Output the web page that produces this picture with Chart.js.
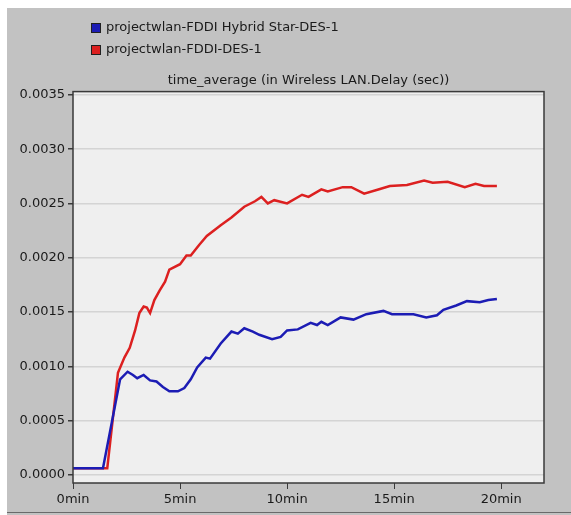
<!DOCTYPE html>
<html>
<head>
<meta charset="utf-8">
<script src="https://cdn.jsdelivr.net/npm/chart.js@4"></script>
<style>
  html,body{margin:0;padding:0;background:#fff;}
  #wrap{width:571px;height:515px;}
</style>
</head>
<body>
<div id="wrap"><canvas id="delayChart" width="571" height="515"></canvas></div>
<script>
// series names
const seriesNames = ['projectwlan-FDDI Hybrid Star-DES-1', 'projectwlan-FDDI-DES-1'];

// hybrid star run (blue), time in minutes / delay in sec
const hybridTimes = [0, 1.4, 2.2, 2.55, 2.8, 3.0, 3.3, 3.6, 3.9, 4.2, 4.5, 4.9, 5.2, 5.5, 5.8, 6.2, 6.4, 6.9, 7.4, 7.7, 8.0, 8.4, 8.7, 9.3, 9.7, 10.0, 10.5, 11.1, 11.4, 11.6, 11.9, 12.5, 13.1, 13.7, 14.5, 14.9, 15.9, 16.5, 17.0, 17.3, 17.9, 18.4, 19.0, 19.4, 19.8];
const hybridDelay = [0.00006, 0.00006, 0.00088, 0.00095, 0.00092, 0.00089, 0.00092, 0.00087, 0.00086, 0.00081, 0.00077, 0.00077, 0.00080, 0.00088, 0.00099, 0.00108, 0.00107, 0.00121, 0.00132, 0.00130, 0.00135, 0.00132, 0.00129, 0.00125, 0.00127, 0.00133, 0.00134, 0.00140, 0.00138, 0.00141, 0.00138, 0.00145, 0.00143, 0.00148, 0.00151, 0.00148, 0.00148, 0.00145, 0.00147, 0.00152, 0.00156, 0.00160, 0.00159, 0.00161, 0.00162];

// plain fddi run (red)
const fddiTimes = [0, 1.6, 2.1, 2.4, 2.65, 2.9, 3.1, 3.3, 3.45, 3.6, 3.8, 4.05, 4.3, 4.5, 5.0, 5.3, 5.5, 5.9, 6.25, 6.9, 7.4, 8.0, 8.5, 8.8, 9.1, 9.4, 10.0, 10.7, 11.0, 11.6, 11.9, 12.6, 13.0, 13.6, 14.3, 14.8, 15.6, 16.4, 16.8, 17.5, 18.3, 18.8, 19.2, 19.8];
const fddiDelay = [0.00006, 0.00006, 0.00094, 0.00108, 0.00117, 0.00133, 0.00149, 0.00155, 0.00154, 0.00149, 0.00161, 0.00170, 0.00178, 0.00189, 0.00194, 0.00202, 0.00202, 0.00212, 0.00220, 0.00230, 0.00237, 0.00247, 0.00252, 0.00256, 0.00250, 0.00253, 0.00250, 0.00258, 0.00256, 0.00263, 0.00261, 0.00265, 0.00265, 0.00259, 0.00263, 0.00266, 0.00267, 0.00271, 0.00269, 0.00270, 0.00265, 0.00268, 0.00266, 0.00266];

// axis ticks
const yTickValues = [0, 0.0005, 0.0010, 0.0015, 0.0020, 0.0025, 0.0030, 0.0035];
const xTickValues = [0, 5, 10, 15, 20];

const chartTitle = 'time_average (in Wireless LAN.Delay (sec))';

function toPoints(xs, ys) {
  return xs.map((x, i) => ({ x: x, y: ys[i] }));
}

Chart.defaults.font.family = '"DejaVu Sans", Verdana, sans-serif';
Chart.defaults.font.size = 13;
Chart.defaults.color = '#1a1a1a';

// gray panel + plot background + frame
const panelPlugin = {
  id: 'panel',
  beforeDraw(chart) {
    const c = chart.ctx, a = chart.chartArea;
    c.save();
    c.fillStyle = '#ffffff';
    c.fillRect(0, 0, chart.width, chart.height);
    c.fillStyle = '#c2c2c2';
    c.fillRect(7, 8, chart.width - 7, chart.height - 8);
    c.fillStyle = '#6a6a6a';
    c.fillRect(7, 512, chart.width - 7, 1);
    c.fillStyle = '#efefef';
    c.fillRect(a.left, a.top, a.right - a.left, a.bottom - a.top);
    c.restore();
  },
  afterDraw(chart) {
    const c = chart.ctx, a = chart.chartArea;
    c.save();
    c.strokeStyle = '#3a3a3a';
    c.lineWidth = 1.5;
    c.strokeRect(a.left, a.top, a.right - a.left, a.bottom - a.top);
    c.restore();
  }
};

// stacked legend at top-left like the original tool
const stackLegend = {
  id: 'stackLegend',
  afterDraw(chart) {
    const c = chart.ctx;
    const rows = [28, 50];
    c.save();
    c.font = '13px "DejaVu Sans", Verdana, sans-serif';
    c.textBaseline = 'middle';
    chart.data.datasets.forEach((ds, i) => {
      const y = rows[i];
      c.fillStyle = ds.borderColor;
      c.fillRect(91, y - 5, 10, 10);
      c.strokeStyle = '#202020';
      c.lineWidth = 1;
      c.strokeRect(91.5, y - 4.5, 9, 9);
      c.fillStyle = '#1a1a1a';
      c.fillText(ds.label, 106, y);
    });
    c.restore();
  }
};

const ctx = document.getElementById('delayChart').getContext('2d');
const delayChart = new Chart(ctx, {
  type: 'line',
  data: {
    datasets: [{
      label: seriesNames[0],
      data: toPoints(hybridTimes, hybridDelay),
      borderColor: '#1c1cb4',
      backgroundColor: '#1c1cb4',
      borderWidth: 2.5,
      pointRadius: 0,
      tension: 0
    }, {
      label: seriesNames[1],
      data: toPoints(fddiTimes, fddiDelay),
      borderColor: '#dc2020',
      backgroundColor: '#dc2020',
      borderWidth: 2.5,
      pointRadius: 0,
      tension: 0
    }]
  },
  options: {
    responsive: false,
    animation: false,
    layout: { padding: { top: 66, right: 27, left: 0, bottom: 0 } },
    plugins: {
      legend: { display: false },
      tooltip: { enabled: false },
      title: {
        display: true,
        text: chartTitle,
        fullSize: false,
        color: '#1a1a1a',
        font: { size: 13, weight: 'normal' },
        padding: { top: 7, bottom: 3 }
      }
    },
    scales: {
      x: {
        type: 'linear',
        min: 0,
        max: 22,
        afterBuildTicks: s => { s.ticks = xTickValues.map(v => ({ value: v })); },
        afterFit: s => { s.height = 32; },
        border: { display: false },
        grid: { drawOnChartArea: false, tickLength: 6, color: '#3a3a3a' },
        ticks: { padding: 3, maxRotation: 0, callback: v => v + 'min' }
      },
      y: {
        min: -0.000075,
        max: 0.00353,
        afterBuildTicks: s => { s.ticks = yTickValues.map(v => ({ value: v })); },
        afterFit: s => { s.width = 73; },
        border: { display: false },
        grid: {
          color: '#d4d4d4',
          lineWidth: 1.5,
          tickColor: '#3a3a3a',
          tickLength: 5
        },
        ticks: { padding: 3, callback: v => v.toFixed(4) }
      }
    }
  },
  plugins: [panelPlugin, stackLegend]
});
</script>
</body>
</html>
